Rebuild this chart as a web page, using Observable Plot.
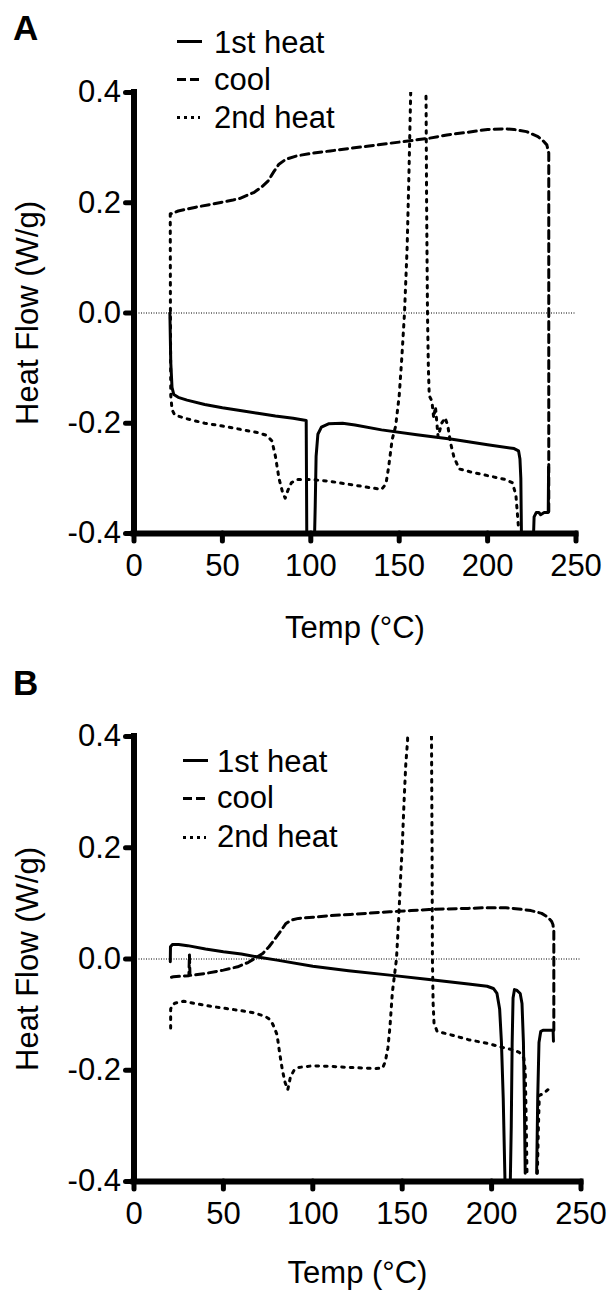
<!DOCTYPE html>
<html><head><meta charset="utf-8">
<script src="https://cdn.jsdelivr.net/npm/d3@7"></script>
<script src="https://cdn.jsdelivr.net/npm/@observablehq/plot@0.6"></script>
<style>
body{margin:0;background:#fff;}
#root{position:relative;width:610px;height:1291px;overflow:hidden;background:#fff;font-family:'Liberation Sans',Arial,Helvetica,sans-serif;color:#000}
.panel{position:absolute;left:0;top:0;width:610px}
.tag{position:absolute;left:13px;font-weight:bold;font-size:35px;line-height:35px;white-space:nowrap}
.ltext{position:absolute;font-size:31px;line-height:31px;white-space:nowrap}
.lsym{position:absolute;height:3px}
</style></head>
<body><div id="root"></div>
<script>
// ---------- shared axes ----------
const xDomain = [0, 250];
const xTicks = [0, 50, 100, 150, 200, 250];
const yDomain = [-0.4, 0.4];
const yTicks = [-0.4, -0.2, 0.0, 0.2, 0.4];
const zeroLine = [0];
const seriesNames = ["1st heat", "cool", "2nd heat"];
const panelTags = ["A", "B"];
const xLabel = "Temp (°C)";
const yLabel = "Heat Flow (W/g)";

// ---------- Panel A ----------
const aHeat1T = [20.3,20.8,21.5,22.5,25,30,40,50,60,70,80,90,97.4,97.8,101.8,102.5,103,104,106,110,118,125,140,160,180,200,215,217.5,218.3,218.8,219.3,225.5,226.3,227.5,229,230,232,234.3,234.5];
const aHeat1F = [0.0,-0.09,-0.135,-0.148,-0.153,-0.158,-0.166,-0.172,-0.177,-0.182,-0.187,-0.191,-0.195,-0.45,-0.45,-0.35,-0.26,-0.22,-0.207,-0.201,-0.2,-0.203,-0.212,-0.221,-0.229,-0.239,-0.246,-0.25,-0.265,-0.3,-0.45,-0.45,-0.37,-0.362,-0.362,-0.366,-0.362,-0.362,-0.28];

const aCoolT = [234.6,234.6,233.5,231.5,228.5,222,215,210,200,189,177,167,155,145,133,123,111,101,92,86,82,79,76,72,68,65,60,56,45,35,25,21];
const aCoolF = [-0.36,0.29,0.305,0.312,0.32,0.329,0.333,0.334,0.333,0.328,0.323,0.317,0.312,0.308,0.303,0.299,0.294,0.29,0.285,0.279,0.27,0.256,0.24,0.228,0.219,0.215,0.208,0.205,0.198,0.192,0.185,0.18];

const aHeat2T = [20.5,20.6,20.8,21.5,23,30,40,50,60,70,75,78,80,82,84,85.5,87,89,92,100,110,120,130,140,142.5,144,146,148,150,151.5,153,154.5,155.5,156.5,157.5,164.5,165.2,165.5,166,166.5,167,168.5,169.5,170.5,172,174,176,177.5,179,181,184,190,200,210,214,216,217,217.5];
const aHeat2F = [0.18,0.0,-0.15,-0.175,-0.185,-0.192,-0.2,-0.205,-0.211,-0.217,-0.222,-0.232,-0.26,-0.3,-0.325,-0.336,-0.322,-0.308,-0.302,-0.302,-0.305,-0.31,-0.315,-0.32,-0.31,-0.28,-0.23,-0.205,-0.15,-0.08,0.0,0.12,0.25,0.4,0.5,0.5,0.385,0.2,0.0,-0.1,-0.15,-0.16,-0.19,-0.17,-0.225,-0.2,-0.19,-0.205,-0.235,-0.262,-0.283,-0.288,-0.295,-0.302,-0.308,-0.33,-0.37,-0.39];

// ---------- Panel B ----------
const bHeat1T = [20.3,20.4,21.5,25,30,40,50,60,70,80,100,120,143,165,187,197.5,201,203,204.5,205.5,206.5,207.5,208.2,210.2,211,211.5,212,212.8,214,216,217,217.8,218.3,218.8,222,225.2,225.8,226.5,227.5,229,234.4,234.6];
const bHeat1F = [-0.005,0.022,0.026,0.026,0.024,0.018,0.013,0.009,0.003,-0.002,-0.013,-0.021,-0.029,-0.037,-0.045,-0.049,-0.053,-0.062,-0.09,-0.15,-0.25,-0.4,-0.45,-0.45,-0.3,-0.15,-0.07,-0.055,-0.056,-0.062,-0.08,-0.15,-0.25,-0.385,null,-0.385,-0.25,-0.15,-0.13,-0.128,-0.128,-0.148];

const bCoolT = [234.8,234.8,234.3,233.5,231.5,228,222,215,208,195,187,175,165,155,143,130,121,110,100,92,88,85,82,79,75.5,72,68,64,58,50,40,33,31.3,31,30.7,26,22,20.5];
const bCoolF = [-0.128,0.05,0.062,0.068,0.075,0.082,0.087,0.09,0.092,0.092,0.091,0.09,0.089,0.087,0.085,0.082,0.08,0.078,0.075,0.073,0.07,0.064,0.05,0.037,0.022,0.01,0.002,-0.006,-0.014,-0.02,-0.026,-0.029,-0.029,0.008,-0.03,-0.031,-0.032,-0.033];

const bHeat2T = [20.5,20.5,21.5,23.3,27.7,34,45,56,66,73.4,76.5,78,80,81.5,83,84.5,86,87.5,89.5,92,100,110,121,135,139,140.5,142,143.2,144.5,146.8,148,149,150,151,152,153,153.6,166,166.4,166.7,166.9,167.3,167.8,169.5,178,187,198,208.5,213,215.5,218,218.8,219.3,219.8,222,225.6,226.2,226.7,229,231.5];
const bHeat2F = [-0.124,-0.09,-0.082,-0.079,-0.076,-0.08,-0.086,-0.091,-0.096,-0.103,-0.11,-0.12,-0.136,-0.17,-0.2,-0.222,-0.235,-0.212,-0.2,-0.195,-0.192,-0.193,-0.195,-0.197,-0.196,-0.185,-0.16,-0.12,-0.06,0.0,0.07,0.14,0.2,0.28,0.35,0.392,0.5,0.5,0.39,0.2,0.0,-0.08,-0.115,-0.13,-0.137,-0.145,-0.152,-0.161,-0.164,-0.168,-0.178,-0.2,-0.28,-0.385,null,-0.385,-0.3,-0.245,-0.242,-0.235];

const zip = (T, F) => T.map((t, i) => ({t, f: F[i]}));

const lineStyles = [
  {strokeDasharray: null},
  {strokeDasharray: "8,5"},
  {strokeDasharray: "2.6,6"}
];
const legendSwatches = [
  {w: 25, bg: "#000"},
  {w: 22, bg: "repeating-linear-gradient(to right,#000 0 9px,transparent 9px 13px)"},
  {w: 23, bg: "repeating-linear-gradient(to right,#000 0 3px,transparent 3px 7px)"}
];

function makePanel(series, geom) {
  const marks = [
    Plot.ruleY(zeroLine, {stroke: "#000", strokeWidth: 1, strokeDasharray: "1,1.5"})
  ];
  series.forEach((data, i) => {
    const opts = {x: "t", y: "f", stroke: "#000", strokeWidth: 3, clip: true, strokeLinejoin: "round"};
    if (lineStyles[i].strokeDasharray) opts.strokeDasharray = lineStyles[i].strokeDasharray;
    marks.push(Plot.line(data, opts));
  });
  marks.push(
    Plot.ruleY(yTicks, {y: d => d, x1: xDomain[0], x2: xDomain[0], insetLeft: -8, stroke: "#000", strokeWidth: 5, strokeLinecap: "round"}),
    Plot.ruleX(xTicks, {x: d => d, y1: yDomain[0], y2: yDomain[0], insetBottom: -8, stroke: "#000", strokeWidth: 5, strokeLinecap: "round"}),
    Plot.ruleX([xDomain[0]], {y1: yDomain[0], y2: yDomain[1], stroke: "#000", strokeWidth: 6, strokeLinecap: "square"}),
    Plot.ruleY([yDomain[0]], {x1: xDomain[0], x2: xDomain[1], stroke: "#000", strokeWidth: 6, strokeLinecap: "square"}),
    Plot.axisY(yTicks, {tickSize: 0, tickPadding: 13, tickFormat: d => d.toFixed(1), fontSize: 31,
      label: yLabel, labelAnchor: "center", labelOffset: geom.yLabelOffset, labelArrow: "none"}),
    Plot.axisX(xTicks, {tickSize: 0, tickPadding: 20, fontSize: 31,
      label: xLabel, labelAnchor: "center", labelOffset: geom.xLabelOffset, labelArrow: "none"})
  );
  return Plot.plot({
    width: 610, height: geom.height,
    marginLeft: geom.ml, marginRight: geom.mr, marginTop: geom.mt, marginBottom: geom.mb,
    style: {fontFamily: "'Liberation Sans', Arial, Helvetica, sans-serif", fontSize: "31px", background: "#fff", color: "#000", overflow: "visible"},
    x: {domain: xDomain},
    y: {domain: yDomain},
    marks
  });
}

// Pin each shape's stroke width / cap inline, copied from the attributes Plot set on its group.
function pinStrokes(svg) {
  svg.querySelectorAll("path, line, rect, circle, polyline, polygon").forEach(el => {
    if (el.closest("clipPath")) return;
    let n = el, sw = null, cap = null;
    while (n && n.getAttribute) {
      if (sw == null && n.getAttribute("stroke-width") != null) sw = n.getAttribute("stroke-width");
      if (cap == null && n.getAttribute("stroke-linecap") != null) cap = n.getAttribute("stroke-linecap");
      if (n === svg) break;
      n = n.parentNode;
    }
    if (sw != null) el.style.setProperty("stroke-width", sw + "px", "important");
    if (cap != null) el.style.setProperty("stroke-linecap", cap, "important");
  });
}

function addDecor(root, tag, tagBaseline, legend) {
  const t = document.createElement("div");
  t.className = "tag"; t.textContent = tag;
  t.style.top = (tagBaseline - 29.6) + "px";
  root.appendChild(t);
  seriesNames.forEach((name, i) => {
    const s = document.createElement("div");
    s.className = "lsym";
    s.style.left = legend.symX + "px";
    s.style.top = (legend.symY[i] - 1.5) + "px";
    s.style.width = legendSwatches[i].w + "px";
    s.style.background = legendSwatches[i].bg;
    root.appendChild(s);
    const tx = document.createElement("div");
    tx.className = "ltext"; tx.textContent = name;
    tx.style.left = legend.textX + "px";
    tx.style.top = (legend.base[i] - 26.25) + "px";
    root.appendChild(tx);
  });
}

const root = document.getElementById("root");

const svgA = makePanel([zip(aHeat1T, aHeat1F), zip(aCoolT, aCoolF), zip(aHeat2T, aHeat2F)],
  {height: 645, ml: 133.5, mr: 34.5, mt: 92, mb: 112, yLabelOffset: 118, xLabelOffset: 104});
const svgB = makePanel([zip(bHeat1T, bHeat1F), zip(bCoolT, bCoolF), zip(bHeat2T, bHeat2F)],
  {height: 646, ml: 133.5, mr: 29.5, mt: 91, mb: 110, yLabelOffset: 118, xLabelOffset: 101});
svgA.setAttribute("height", 1291);
svgA.setAttribute("viewBox", "0 0 610 1291");
const gB = document.createElementNS("http://www.w3.org/2000/svg", "g");
gB.setAttribute("transform", "translate(0,645)");
for (const child of Array.from(svgB.childNodes)) {
  if (child.nodeName && child.nodeName.toLowerCase() === "style") continue;
  gB.appendChild(child);
}
svgA.appendChild(gB);
pinStrokes(svgA);

const pA = document.createElement("div");
pA.className = "panel";
pA.appendChild(svgA);
root.appendChild(pA);

addDecor(root, panelTags[0], 40, {symX: 177, textX: 214, symY: [41, 79, 117], base: [53, 90.5, 128]});
addDecor(root, panelTags[1], 695, {symX: 183, textX: 217, symY: [760, 798, 837], base: [772, 808, 847]});
</script>
</body></html>
